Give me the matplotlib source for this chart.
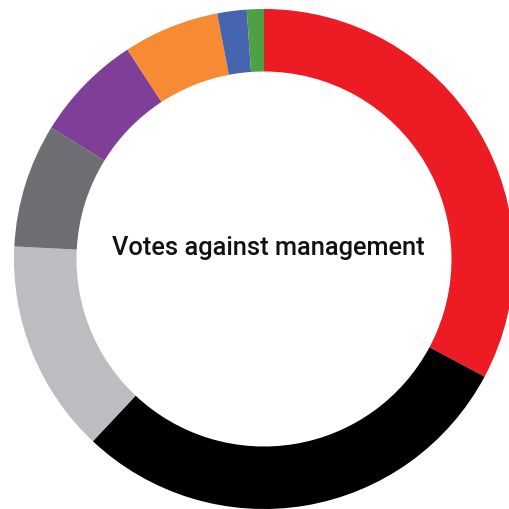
import matplotlib

matplotlib.use("Agg")
import matplotlib.pyplot as plt

# Share of votes against management, clockwise from 12 o'clock
shares = [32.8, 29.2, 13.8, 8.0, 7.0, 6.2, 1.9, 1.1]
colors = [
    "#ED1C24",
    "#000000",
    "#BCBDC0",
    "#6D6E71",
    "#7F3F98",
    "#F68B33",
    "#4765AE",
    "#4DA046",
]
center_label = "Votes against management"

fig = plt.figure(figsize=(5.09, 5.10), dpi=100)
ax = fig.add_axes([0, 0, 1, 1])
ax.pie(
    shares,
    colors=colors,
    startangle=90,
    counterclock=False,
    radius=1.0,
    wedgeprops={"width": 0.25, "linewidth": 0, "antialiased": True},
)
ax.text(
    0.016,
    0.046,
    center_label,
    ha="center",
    va="center",
    fontsize=18.3,
    fontweight="medium",
    family=["Roboto", "Liberation Sans"],
    color="#111111",
)

# ring centre sits at (264, 260) px with a 250 px outer radius
ax.set_xlim(-264 / 250, (509 - 264) / 250)
ax.set_ylim(-(510 - 260) / 250, 260 / 250)
ax.set_aspect("auto")
ax.axis("off")

fig.savefig("out.png", dpi=100)
